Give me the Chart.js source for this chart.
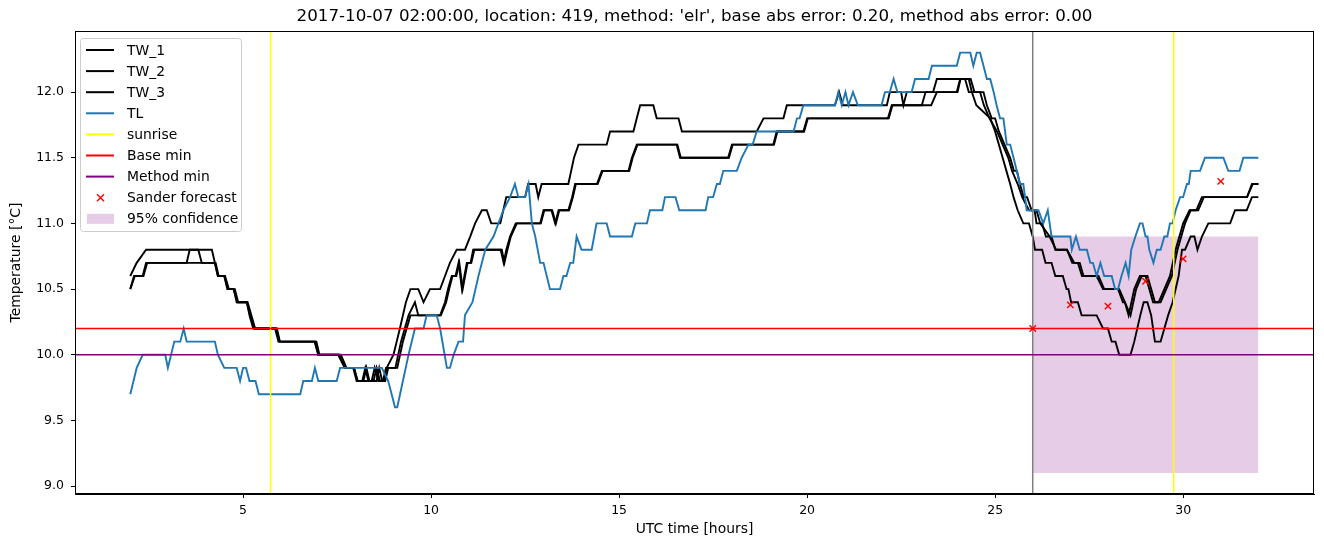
<!DOCTYPE html>
<html>
<head>
<meta charset="utf-8">
<script src="https://cdn.jsdelivr.net/npm/chart.js@4.4.0/dist/chart.umd.min.js"></script>
<style>
  body { margin: 0; background: #fff; }
  canvas { display: block; }
</style>
</head>
<body>
<canvas id="chart" width="1324" height="547"></canvas>
<script>
// axis limits and ticks
const xMin = 0.53, xMax = 33.48;
const yMin = 8.94, yMax = 12.465;
const xTickValues = [5, 10, 15, 20, 25, 30];
const yTickValues = [9.0, 9.5, 10.0, 10.5, 11.0, 11.5, 12.0];

// [UTC hour, temperature] break points
const tw1Points = [[2.0,10.6],[2.17,10.7],[2.42,10.8],[4.17,10.8],[4.25,10.7],[4.33,10.6],[4.5,10.6],[4.58,10.5],[4.75,10.5],[4.83,10.4],[5.1,10.4],[5.17,10.3],[5.27,10.2],[5.85,10.2],[5.94,10.1],[6.9,10.1],[7.0,10.0],[7.53,10.0],[7.7,9.9],[7.93,9.9],[8.02,9.8],[8.17,9.8],[8.25,9.9],[8.33,9.8],[8.47,9.8],[8.55,9.9],[8.64,9.8],[8.75,9.8],[8.82,9.9],[9.0,10.0],[9.17,10.2],[9.33,10.4],[9.45,10.5],[9.66,10.5],[9.8,10.4],[9.97,10.5],[10.24,10.5],[10.37,10.6],[10.5,10.7],[10.68,10.8],[10.9,10.8],[11.04,10.9],[11.17,11.0],[11.35,11.1],[11.48,11.1],[11.6,11.0],[11.84,11.0],[11.92,11.1],[12.0,11.2],[12.5,11.2],[12.58,11.3],[12.78,11.3],[12.85,11.2],[12.94,11.3],[13.65,11.3],[13.8,11.5],[13.92,11.6],[14.67,11.6],[14.76,11.7],[15.38,11.7],[15.47,11.8],[15.56,11.9],[15.91,11.9],[16.0,11.8],[16.58,11.8],[16.67,11.7],[18.66,11.7],[18.84,11.8],[19.37,11.8],[19.46,11.9],[20.74,11.9],[20.85,12.0],[20.95,11.9],[22.12,11.9],[22.2,12.0],[22.5,12.0],[22.56,11.9],[22.65,12.0],[23.35,12.0],[23.45,12.1],[24.2,12.1],[24.3,12.0],[24.69,12.0],[24.78,11.9],[24.91,11.8],[25.0,11.8],[25.1,11.7],[25.25,11.6],[25.4,11.5],[25.5,11.4],[25.58,11.4],[25.66,11.3],[25.76,11.2],[25.85,11.2],[25.97,11.1],[26.05,11.1],[26.1,11.0],[26.25,11.0],[26.35,10.9],[26.5,10.9],[26.6,10.8],[26.91,10.8],[27.05,10.7],[27.2,10.7],[27.31,10.6],[27.7,10.6],[27.87,10.5],[28.27,10.5],[28.4,10.4],[28.45,10.4],[28.55,10.3],[28.7,10.5],[28.85,10.6],[29.0,10.6],[29.1,10.5],[29.2,10.4],[29.35,10.4],[29.5,10.5],[29.65,10.6],[29.8,10.8],[29.9,10.9],[30.0,11.0],[30.17,11.1],[30.35,11.1],[30.5,11.2],[31.7,11.2],[31.83,11.3],[32.0,11.3]];

const tw2Points = [[2.0,10.5],[2.1,10.6],[2.33,10.6],[2.42,10.7],[3.5,10.7],[3.58,10.8],[3.81,10.8],[3.9,10.7],[4.25,10.7],[4.33,10.6],[4.5,10.6],[4.6,10.5],[4.75,10.5],[4.85,10.4],[5.1,10.4],[5.19,10.3],[5.3,10.2],[5.9,10.2],[5.98,10.1],[6.92,10.1],[7.0,10.0],[7.55,10.0],[7.72,9.9],[7.95,9.9],[8.04,9.8],[8.42,9.8],[8.5,9.9],[8.6,9.8],[8.72,9.8],[8.8,9.9],[9.05,9.9],[9.2,10.1],[9.4,10.3],[9.57,10.4],[9.66,10.3],[10.24,10.3],[10.37,10.4],[10.45,10.5],[10.55,10.6],[10.65,10.6],[10.73,10.7],[10.82,10.5],[10.95,10.7],[11.05,10.7],[11.12,10.8],[11.85,10.8],[11.93,10.7],[12.0,10.8],[12.1,10.9],[12.25,11.0],[12.9,11.0],[12.99,11.1],[13.2,11.1],[13.3,11.0],[13.39,11.1],[13.65,11.1],[13.75,11.2],[13.83,11.3],[14.41,11.3],[14.54,11.4],[15.25,11.4],[15.34,11.5],[15.47,11.6],[16.53,11.6],[16.62,11.5],[17.9,11.5],[18.0,11.6],[19.1,11.6],[19.19,11.7],[19.9,11.7],[20.0,11.8],[22.15,11.8],[22.25,11.9],[23.05,11.9],[23.15,12.0],[23.98,12.0],[24.07,12.1],[24.35,12.1],[24.45,12.0],[24.6,12.0],[24.7,11.9],[24.85,11.8],[25.05,11.7],[25.2,11.6],[25.35,11.5],[25.45,11.4],[25.6,11.3],[25.72,11.2],[25.9,11.1],[26.1,11.1],[26.2,11.0],[26.45,10.9],[26.62,10.8],[26.91,10.8],[27.1,10.7],[27.25,10.7],[27.35,10.6],[27.75,10.6],[27.9,10.5],[28.3,10.5],[28.45,10.4],[28.6,10.3],[28.75,10.5],[28.9,10.6],[29.05,10.6],[29.15,10.5],[29.25,10.4],[29.4,10.4],[29.55,10.5],[29.7,10.6],[29.85,10.8],[29.95,10.9],[30.05,11.0],[30.2,11.1],[30.4,11.1],[30.55,11.2],[31.7,11.2],[31.85,11.3],[32.0,11.3]];

const tw3Points = [[2.0,10.5],[2.12,10.6],[2.35,10.6],[2.45,10.7],[4.27,10.7],[4.35,10.6],[4.52,10.6],[4.62,10.5],[4.78,10.5],[4.87,10.4],[5.12,10.4],[5.22,10.3],[5.32,10.2],[5.88,10.2],[5.97,10.1],[6.95,10.1],[7.03,10.0],[7.6,10.0],[7.75,9.9],[7.95,9.9],[8.05,9.8],[8.2,9.8],[8.28,9.9],[8.36,9.8],[8.55,9.8],[8.62,9.9],[8.7,9.8],[8.78,9.8],[8.86,9.9],[9.1,9.9],[9.25,10.1],[9.45,10.3],[10.26,10.3],[10.4,10.4],[10.48,10.5],[10.57,10.6],[10.67,10.6],[10.75,10.7],[10.84,10.5],[10.97,10.7],[11.07,10.7],[11.15,10.8],[11.88,10.8],[11.95,10.7],[12.03,10.8],[12.12,10.9],[12.28,11.0],[12.92,11.0],[13.01,11.1],[13.22,11.1],[13.32,11.0],[13.41,11.1],[13.67,11.1],[13.77,11.2],[13.85,11.3],[14.43,11.3],[14.56,11.4],[15.27,11.4],[15.36,11.5],[15.49,11.6],[16.55,11.6],[16.64,11.5],[17.92,11.5],[18.02,11.6],[19.12,11.6],[19.21,11.7],[19.92,11.7],[20.02,11.8],[22.17,11.8],[22.27,11.9],[23.3,11.9],[23.45,12.0],[24.0,12.0],[24.08,12.1],[24.3,12.1],[24.38,12.0],[24.5,11.9],[24.87,11.8],[25.0,11.7],[25.1,11.6],[25.2,11.5],[25.3,11.4],[25.4,11.3],[25.49,11.2],[25.6,11.1],[25.75,11.0],[25.9,11.0],[26.0,10.9],[26.06,10.8],[26.25,10.8],[26.34,10.7],[26.5,10.7],[26.6,10.6],[26.8,10.6],[26.9,10.5],[26.95,10.5],[27.02,10.4],[27.2,10.4],[27.3,10.3],[27.7,10.3],[27.87,10.2],[28.0,10.2],[28.1,10.1],[28.2,10.1],[28.3,10.0],[28.6,10.0],[28.7,10.1],[28.86,10.3],[28.95,10.4],[29.05,10.4],[29.15,10.3],[29.25,10.1],[29.4,10.1],[29.5,10.2],[29.6,10.3],[29.72,10.4],[29.88,10.6],[29.97,10.8],[30.05,10.8],[30.2,10.9],[30.3,10.9],[30.38,10.8],[30.5,10.9],[30.67,11.0],[31.25,11.0],[31.38,11.1],[31.69,11.1],[31.83,11.2],[32.0,11.2]];

const tlPoints = [[2.0,9.7],[2.17,9.9],[2.33,10.0],[2.93,10.0],[3.0,9.9],[3.17,10.1],[3.33,10.1],[3.42,10.2],[3.5,10.1],[4.25,10.1],[4.33,10.0],[4.5,9.9],[4.83,9.9],[4.92,9.8],[5.0,9.9],[5.08,9.9],[5.17,9.8],[5.33,9.8],[5.42,9.7],[6.52,9.7],[6.6,9.8],[6.83,9.8],[6.91,9.9],[7.0,9.8],[7.49,9.8],[7.58,9.9],[8.69,9.9],[8.86,9.8],[9.04,9.6],[9.1,9.6],[9.4,10.0],[9.57,10.2],[9.8,10.2],[9.88,10.3],[10.15,10.3],[10.24,10.2],[10.42,9.9],[10.5,9.9],[10.6,10.0],[10.73,10.1],[10.85,10.1],[10.9,10.3],[11.1,10.4],[11.26,10.6],[11.44,10.8],[11.66,10.9],[11.79,11.0],[11.92,11.1],[12.1,11.2],[12.23,11.3],[12.32,11.2],[12.5,11.2],[12.59,11.3],[12.68,11.0],[12.77,10.9],[12.9,10.7],[12.99,10.7],[13.16,10.5],[13.43,10.5],[13.52,10.6],[13.6,10.6],[13.7,10.7],[13.78,10.7],[13.87,10.9],[14.0,10.8],[14.27,10.8],[14.4,11.0],[14.67,11.0],[14.76,10.9],[15.34,10.9],[15.43,11.0],[15.74,11.0],[15.82,11.1],[16.15,11.1],[16.22,11.2],[16.5,11.2],[16.6,11.1],[17.3,11.1],[17.37,11.2],[17.5,11.2],[17.6,11.3],[17.68,11.3],[17.77,11.4],[18.13,11.4],[18.26,11.5],[18.44,11.6],[18.55,11.6],[18.66,11.7],[19.64,11.7],[19.73,11.8],[19.8,11.8],[19.9,11.9],[20.74,11.9],[20.83,12.0],[20.92,11.9],[21.02,12.0],[21.1,11.9],[21.22,12.0],[21.35,11.9],[21.98,11.9],[22.07,12.0],[22.2,12.0],[22.3,12.1],[22.4,12.0],[22.78,12.0],[22.87,12.1],[23.23,12.1],[23.32,12.2],[23.98,12.2],[24.07,12.3],[24.34,12.3],[24.42,12.2],[24.51,12.3],[24.6,12.3],[24.69,12.2],[24.78,12.1],[24.87,12.1],[24.96,12.0],[25.04,11.9],[25.13,11.8],[25.22,11.8],[25.31,11.6],[25.4,11.6],[25.49,11.5],[25.66,11.3],[25.75,11.3],[25.84,11.1],[26.15,11.1],[26.28,11.0],[26.4,11.1],[26.5,10.9],[27.0,10.9],[27.04,10.8],[27.15,10.9],[27.25,10.8],[27.44,10.8],[27.53,10.7],[27.6,10.7],[27.7,10.6],[27.8,10.7],[27.9,10.6],[28.1,10.6],[28.19,10.5],[28.27,10.5],[28.36,10.6],[28.47,10.7],[28.55,10.6],[28.62,10.8],[28.73,10.9],[28.85,11.0],[28.92,11.0],[29.0,10.9],[29.05,10.9],[29.1,10.8],[29.21,10.7],[29.3,10.8],[29.4,10.8],[29.5,10.9],[29.58,10.9],[29.65,11.0],[29.72,11.0],[29.8,11.1],[29.92,11.2],[30.0,11.2],[30.1,11.3],[30.15,11.3],[30.2,11.4],[30.45,11.4],[30.58,11.5],[31.07,11.5],[31.2,11.4],[31.5,11.4],[31.6,11.5],[32.0,11.5]];

const sunriseHours = [5.73, 29.75];
const forecastStart = 26;
const baseMin = 10.2;
const methodMin = 10.0;
const sanderHours = [26, 27, 28, 29, 30, 31];
const sanderTemps = [10.2, 10.38, 10.37, 10.56, 10.73, 11.32];
const confHours = [26, 32];
const confLow = 9.1;
const confHigh = 10.9;

const toXY = pts => pts.map(p => ({ x: p[0], y: p[1] }));
const vline = x => [{ x: x, y: yMin }, { x: x, y: yMax }];
const hline = y => [{ x: xMin, y: y }, { x: xMax, y: y }];

const FONT = "'DejaVu Sans', sans-serif";
const black = '#000000', blue = '#1f77b4';

const lineDs = (label, data, color, width, order, legend) => ({
  label, data, borderColor: color, backgroundColor: color, borderWidth: width,
  pointRadius: 0, tension: 0, fill: false, order, legendShow: legend
});

const datasets = [
  lineDs('TW_1', toXY(tw1Points), black, 1.9, 5, true),
  lineDs('TW_2', toXY(tw2Points), black, 1.9, 5, true),
  lineDs('TW_3', toXY(tw3Points), black, 1.9, 5, true),
  lineDs('TL', toXY(tlPoints), blue, 1.9, 4, true),
  lineDs('sunrise', vline(sunriseHours[0]), '#ffff00', 1.5, 3, true),
  lineDs('', vline(sunriseHours[1]), '#ffff00', 1.5, 3, false),
  lineDs('', vline(forecastStart), '#808080', 1.5, 3, false),
  lineDs('Base min', hline(baseMin), '#ff0000', 1.5, 2, true),
  lineDs('Method min', hline(methodMin), '#800080', 1.5, 2, true),
  {
    label: 'Sander forecast', type: 'scatter',
    data: sanderHours.map((h, i) => ({ x: h, y: sanderTemps[i] })),
    pointStyle: 'crossRot', pointRadius: 4.5, borderWidth: 1.4,
    borderColor: '#ff0000', backgroundColor: '#ff0000', showLine: false,
    order: 1, legendShow: true
  },
  {
    label: '95% confidence',
    data: confHours.map(h => ({ x: h, y: confHigh })),
    borderWidth: 0, pointRadius: 0, borderColor: 'rgba(0,0,0,0)',
    backgroundColor: 'rgba(128,0,128,0.2)', fill: { value: confLow },
    order: 10, legendShow: true
  }
];

const frameAndLegend = {
  id: 'frameAndLegend',
  afterDraw(chart) {
    const ctx = chart.ctx, a = chart.chartArea;
    ctx.save();
    ctx.strokeStyle = '#000';
    ctx.lineWidth = 1;
    ctx.strokeRect(Math.round(a.left) + 0.5, Math.round(a.top) + 0.5,
      Math.round(a.right - a.left) - 1, Math.round(a.bottom - a.top) - 1);

    // title
    ctx.fillStyle = '#000';
    ctx.font = '16.7px ' + FONT;
    ctx.textAlign = 'center';
    ctx.textBaseline = 'middle';
    ctx.fillText("2017-10-07 02:00:00, location: 419, method: 'elr', base abs error: 0.20, method abs error: 0.00",
      (a.left + a.right) / 2, 17);

    // legend
    const items = chart.data.datasets.filter(d => d.legendShow);
    const bx = 80.5, by = 38.5, bw = 161, bh = 193;
    ctx.beginPath();
    ctx.roundRect(bx, by, bw, bh, 3);
    ctx.fillStyle = 'rgba(255,255,255,0.8)';
    ctx.fill();
    ctx.strokeStyle = '#cccccc';
    ctx.stroke();
    ctx.font = '13.9px ' + FONT;
    ctx.textAlign = 'left';
    items.forEach((d, i) => {
      const y = 50 + i * 21.1;
      if (d.type === 'scatter') {
        ctx.strokeStyle = d.borderColor;
        ctx.lineWidth = 1.4;
        ctx.beginPath();
        ctx.moveTo(97, y - 3.5); ctx.lineTo(104, y + 3.5);
        ctx.moveTo(104, y - 3.5); ctx.lineTo(97, y + 3.5);
        ctx.stroke();
      } else if (d.fill) {
        ctx.fillStyle = d.backgroundColor;
        ctx.fillRect(87, y - 5, 27, 10);
      } else {
        ctx.strokeStyle = d.borderColor;
        ctx.lineWidth = 2;
        ctx.beginPath();
        ctx.moveTo(86, y); ctx.lineTo(114, y);
        ctx.stroke();
      }
      ctx.fillStyle = '#000';
      ctx.fillText(d.label, 127, y + 1);
    });
    ctx.restore();
  }
};

new Chart(document.getElementById('chart').getContext('2d'), {
  type: 'line',
  data: { datasets },
  options: {
    responsive: false,
    devicePixelRatio: 1,
    animation: false,
    events: [],
    layout: { padding: { top: 31, right: 10, left: 0, bottom: 0 } },
    plugins: { legend: { display: false }, title: { display: false }, tooltip: { enabled: false } },
    scales: {
      x: {
        type: 'linear', min: xMin, max: xMax,
        afterFit: s => { s.height = 53; },
        afterBuildTicks: s => { s.ticks = xTickValues.map(v => ({ value: v })); },
        grid: { drawOnChartArea: false, drawTicks: true, tickLength: 4, color: '#000' },
        border: { display: true, color: '#000' },
        ticks: { color: '#000', padding: 5, maxRotation: 0, font: { family: FONT, size: 12.5 } },
        title: { display: true, text: 'UTC time [hours]', color: '#000', padding: { top: 0, bottom: 9 }, font: { family: FONT, size: 13.9 } }
      },
      y: {
        type: 'linear', min: yMin, max: yMax,
        afterFit: s => { s.width = 75; },
        afterBuildTicks: s => { s.ticks = yTickValues.map(v => ({ value: v })); },
        grid: { drawOnChartArea: false, drawTicks: true, tickLength: 4, color: '#000' },
        border: { display: true, color: '#000' },
        ticks: { color: '#000', padding: 7, callback: v => v.toFixed(1), font: { family: FONT, size: 12.5 } },
        title: { display: true, text: 'Temperature [°C]', color: '#000', padding: { top: 8, bottom: 0 }, font: { family: FONT, size: 13.9 } }
      }
    }
  },
  plugins: [frameAndLegend]
});
</script>
</body>
</html>
